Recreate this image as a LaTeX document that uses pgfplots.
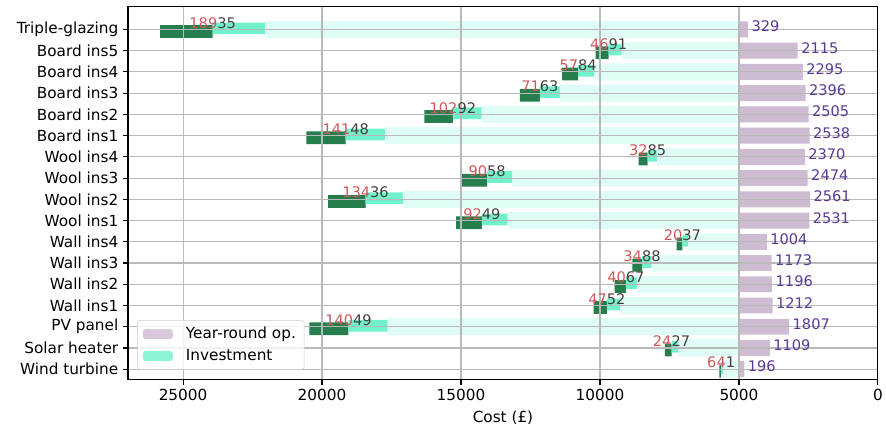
\documentclass[border=0pt]{standalone}
\usepackage{pgfplots}
\pgfplotsset{compat=1.18}
\usepackage{pgfplotstable}
\usepackage{fontspec}
\setmainfont{DejaVu Sans}

\definecolor{opfill}{RGB}{206,188,210}
\definecolor{invfaint}{RGB}{224,252,247}
\definecolor{invfill}{RGB}{112,242,204}
\definecolor{invdark}{RGB}{38,125,78}
\definecolor{oplabel}{RGB}{88,58,150}
\definecolor{invred}{RGB}{205,88,88}
\definecolor{invtext}{RGB}{70,62,58}
\definecolor{gridgray}{RGB}{185,185,185}
\definecolor{legendgray}{RGB}{204,204,204}

% red leading digits of the investment labels
\protected\def\rd#1{\textcolor{invred}{#1}}

% y: row (0 = bottom), op: year-round operating cost, inv: investment
\pgfplotstableread{
y op inv lab
0 196 641 \rd{64}1
1 1109 2427 \rd{24}27
2 1807 14049 \rd{140}49
3 1212 4752 \rd{47}52
4 1196 4067 \rd{40}67
5 1173 3488 \rd{34}88
6 1004 2037 \rd{20}37
7 2531 9249 \rd{92}49
8 2561 13436 \rd{134}36
9 2474 9058 \rd{90}58
10 2370 3285 \rd{32}85
11 2538 14148 \rd{141}48
12 2505 10292 \rd{102}92
13 2396 7163 \rd{71}63
14 2295 5784 \rd{57}84
15 2115 4691 \rd{46}91
16 329 18935 \rd{189}35
}\costs

\begin{document}
\begin{tikzpicture}
\begin{axis}[
  scale only axis, width=540pt, height=268.5pt,
  xbar stacked,
  stacked ignores zero=false,
  x dir=reverse,
  xmin=0, xmax=26980, ymin=-0.5, ymax=17.06,
  xtick={0,5000,10000,15000,20000,25000},
  xticklabels={0,5000,10000,15000,20000,25000},
  scaled x ticks=false,
  ytick={0,...,16},
  yticklabels={Wind turbine,Solar heater,PV panel,Wall ins1,Wall ins2,Wall ins3,Wall ins4,Wool ins1,Wool ins2,Wool ins3,Wool ins4,Board ins1,Board ins2,Board ins3,Board ins4,Board ins5,Triple-glazing},
  tick align=outside, xtick pos=bottom, ytick pos=left,
  major tick length=3.5pt,
  every tick/.style={black, line width=0.8pt},
  axis line style={line width=0.8pt},
  grid=major, major grid style={gridgray, line width=0.8pt},
  axis on top,
  tick label style={font=\fontsize{11}{13}\selectfont},
  xlabel={Cost (£)},
  xlabel style={font=\fontsize{11}{13}\selectfont},
  legend cell align=left,
  legend style={at={(0.012,0.027)}, anchor=south west, draw=legendgray,
    rounded corners=2pt, fill=white, fill opacity=0.8, text opacity=1,
    font=\fontsize{11}{13}\selectfont, row sep=2pt, inner xsep=4pt, inner ysep=3pt},
  legend image code/.code={\fill[#1] (0pt,-3.6pt) rectangle (21.6pt,3.6pt);
    \path (0pt,0pt) -- (29pt,0pt);},
]
\addlegendimage{fill=opfill, draw=none}
\addlegendentry{Year-round op.}
\addlegendimage{fill=invfill, draw=none}
\addlegendentry{Investment}

% offset from zero to the start of the operating-cost bar
\addplot[draw=none, fill=none, bar width=0.75, bar shift=0]
  table[x expr=5000-\thisrow{op}, y=y] {\costs};
% empty step carrying the operating-cost label at the bar's end
\addplot[draw=none, fill=none, bar width=0.75, bar shift=0,
  nodes near coords, point meta=explicit symbolic,
  nodes near coords style={anchor=west, text=oplabel, xshift=-1pt, yshift=2pt,
    font=\fontsize{10.5}{12}\selectfont}]
  table[x expr=0, y=y, meta=op] {\costs};
% year-round operating cost, ending at 5000
\addplot[fill=opfill, draw=none, bar width=0.75, bar shift=0]
  table[x=op, y=y] {\costs};
% investment, faint part
\addplot[fill=invfaint, draw=none, bar width=0.8, bar shift=0]
  table[x expr=0.9*\thisrow{inv}, y=y] {\costs};
% investment, last tenth
\addplot[fill=invfill, draw=none, bar width=0.55, bar shift=0.05]
  table[x expr=0.1*\thisrow{inv}, y=y] {\costs};
% empty step carrying the investment label at the investment value
\addplot[draw=none, fill=none, bar width=0.6, bar shift=0,
  nodes near coords, point meta=explicit symbolic,
  nodes near coords style={anchor=base, text=invtext, yshift=1pt,
    font=\fontsize{10.5}{12}\selectfont}]
  table[x expr=0, y=y, meta=lab] {\costs};
% investment, upper tenth
\addplot[fill=invdark, draw=none, bar width=0.6, bar shift=-0.1]
  table[x expr=0.1*\thisrow{inv}, y=y] {\costs};
\end{axis}
\pgfresetboundingbox
\path ([xshift=-92.2pt,yshift=-37.4pt]current axis.south west)
  rectangle ([xshift=5.8pt,yshift=5pt]current axis.north east);
\end{tikzpicture}
\end{document}
